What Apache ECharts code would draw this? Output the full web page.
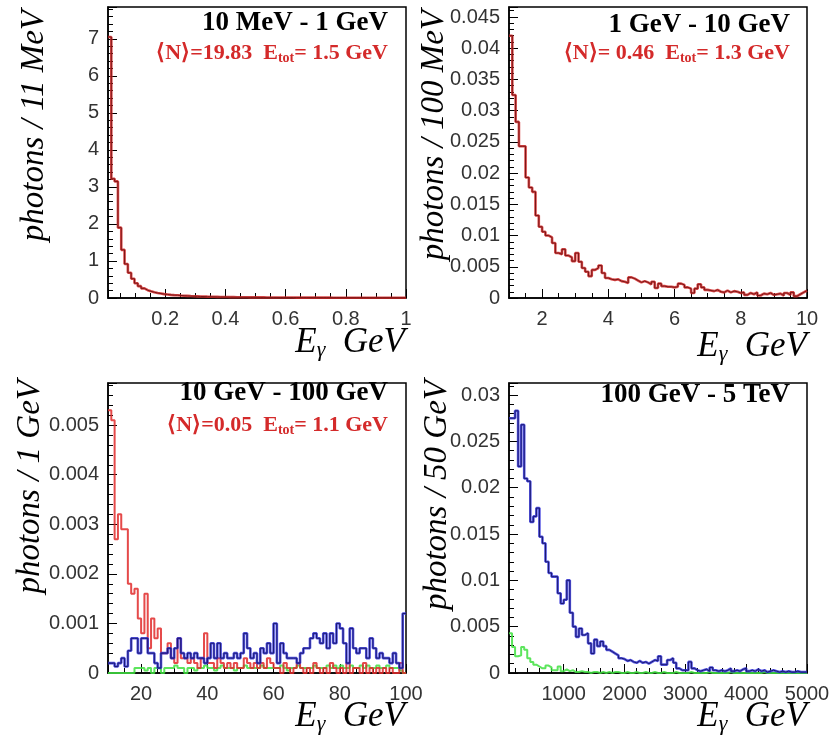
<!DOCTYPE html>
<html>
<head>
<meta charset="utf-8">
<script src="https://cdn.jsdelivr.net/npm/echarts@6/dist/echarts.min.js"></script>
<style>
html, body { margin: 0; background: #fff; }
#chart { width: 834px; height: 746px; }
</style>
</head>
<body>
<div id="chart"></div>
<script>
// histogram binning: [low edge, bin width]
const p1Bins = [0.01, 0.011]
const p2Bins = [1, 0.1]
const p3Bins = [10, 1]
const p4Bins = [100, 50]

// 10 MeV - 1 GeV, photons / 11 MeV
const p1Vals = [
  7.05, 3.22, 3.15, 1.9, 1.3, 0.92, 0.68, 0.52, 0.4, 0.32,
  0.26, 0.21, 0.18, 0.155, 0.135, 0.12, 0.105, 0.095, 0.085, 0.077,
  0.075, 0.068, 0.062, 0.057, 0.052, 0.048, 0.045, 0.042, 0.039, 0.036,
  0.034, 0.032, 0.03, 0.028, 0.027, 0.025, 0.024, 0.023, 0.022, 0.021,
  0.02, 0.019, 0.018, 0.018, 0.017, 0.016, 0.016, 0.015, 0.015, 0.014,
  0.014, 0.013, 0.013, 0.012, 0.012, 0.012, 0.011, 0.011, 0.011, 0.01,
  0.01, 0.01, 0.01, 0.009, 0.009, 0.009, 0.009, 0.008, 0.008, 0.008,
  0.008, 0.008, 0.007, 0.007, 0.007, 0.007, 0.007, 0.007, 0.006, 0.006,
  0.006, 0.006, 0.006, 0.006, 0.006, 0.005, 0.005, 0.005, 0.005, 0.005,
]

// 1 GeV - 10 GeV, photons / 100 MeV
const p2Vals = [
  0.042, 0.0325, 0.0282, 0.0243, 0.0243, 0.0193, 0.0177, 0.017, 0.0132, 0.0114,
  0.0106, 0.01, 0.0097, 0.0088, 0.0072, 0.007, 0.0078, 0.0068, 0.0065, 0.0059,
  0.0072, 0.0058, 0.0048, 0.0042, 0.0035, 0.0045, 0.0048, 0.0052, 0.004, 0.0032,
  0.003, 0.0029, 0.003, 0.0027, 0.0026, 0.0024, 0.0033, 0.0031, 0.0028, 0.0025,
  0.0027, 0.0025, 0.0022, 0.0026, 0.0016, 0.0023, 0.0019, 0.0018, 0.0018, 0.0017,
  0.0018, 0.0023, 0.0021, 0.0017, 0.0015, 0.0008, 0.0015, 0.0022, 0.0017, 0.0013,
  0.0012, 0.0011, 0.0013, 0.001, 0.0009, 0.0012, 0.0009, 0.0011, 0.001, 0.0008,
  0.0009, 0.0005, 0.0008, 0.0006, 0.0009, 0.0004, 0.0007, 0.0006, 0.0008, 0.0005,
  0.0006, 0.0007, 0.0004, 0.0008, 0.0005, 0.0009, 0.0003, 0.0006, 0.0009, 0.0012,
]

// 10 GeV - 100 GeV, photons / 1 GeV
const p3Red = [
  0.0053, 0.0051, 0.0027, 0.0032, 0.0029, 0.0029, 0.0018, 0.0016, 0.0017, 0.0011,
  0.0008, 0.0016, 0.0005, 0.0011, 0.0007, 0.0009, 0.0004, 0.0004, 0.0006, 0.0003,
  0.0002, 0.0007, 0.0003, 0.0003, 0.0002, 0.0003, 0.0002, 0.0001, 0.0003, 0.0008,
  0.0002, 0.0002, 0.0001, 0.0003, 0.0002, 0.0001, 0.0002, 0.0001, 0.0002, 0.0001,
  0.0001, 0.0003, 0.0002, 0.0001, 0.0002, 0.0001, 0.0002, 0.0001, 0.0003, 0.0002,
  0.0001, 0.0001, 0, 0.0002, 0.0001, 0, 0.0001, 0.0002, 0.0001, 0,
  0.0001, 0, 0.0002, 0.0001, 0, 0.0001, 0, 0.0002, 0.0001, 0,
  0.0001, 0, 0.0002, 0, 0.0001, 0.0001, 0, 0.0002, 0, 0.0001,
  0, 0.0001, 0, 0.0001, 0, 0.0001, 0, 0, 0.0002, 0,
]
const p3Blue = [
  0.0002, 0.0002, 0.00013, 0.0002, 0.0003, 0.00013, 0.00045, 0.0007, 0.0007, 0.0004,
  0.0007, 0.0007, 0.0004, 0.0004, 0.0002, 0.0001, 0.0004, 0.0004, 0.0005, 0.0003,
  0.0005, 0.0007, 0.0004, 0.0003, 0.0004, 0.0003, 0.0004, 0.0003, 0.0003, 0.0002,
  0.0003, 0.0006, 0.0003, 0.0006, 0.0003, 0.0004, 0.0003, 0.0003, 0.0004, 0.0003,
  0.0004, 0.0008, 0.0005, 0.0003, 0.0004, 0.0002, 0.0005, 0.0004, 0.0006, 0.0004,
  0.001, 0.0002, 0.0006, 0.0004, 0.0003, 0.0003, 0.0003, 0.0002, 0.0004, 0.0005,
  0.0005, 0.0007, 0.0008, 0.0007, 0.0006, 0.0008, 0.0005, 0.0008, 0.0006, 0.001,
  0.0009, 0.0006, 0.0002, 0.0009, 0.0005, 0.0004, 0.0005, 0.0005, 0.0003, 0.0007,
  0.0005, 0.0003, 0.0004, 0.0003, 0.0003, 0.0002, 0.0004, 0.0002, 0.0001, 0.0012,
]
const p3Green = [
  0, 0, 0, 0, 0, 0, 0, 0, 0.0001, 0.0001,
  0.0001, 0.00005, 0.0001, 0, 0.0001, 0.0001, 0, 0.0001, 0.0001, 0.0001,
  0.00015, 0.0001, 0.0001, 0, 0.0001, 0.0001, 0.00005, 0.0001, 0.0001, 0.00015,
  0.0001, 0.0001, 0.00005, 0.0001, 0.00015, 0.0001, 0.0001, 0.0001, 0.00005, 0.0001,
  0.0001, 0.00015, 0.0001, 0.0001, 0.0001, 0.0001, 0.00015, 0.0001, 0.0001, 0.0001,
  0.0001, 0.0001, 0.00015, 0.0001, 0.00005, 0.0001, 0.0001, 0.00015, 0.0001, 0.0001,
  0.0001, 0.0001, 0.00015, 0.0001, 0.0001, 0.0001, 0.00015, 0.0001, 0.00015, 0.0001,
  0.00015, 0.0001, 0.0001, 0.00015, 0.0001, 0.0001, 0.00015, 0.0001, 0.00015, 0.0001,
  0.0001, 0.00015, 0.0001, 0.0001, 0.00015, 0.0001, 0.0001, 0.0001, 0.00005, 0,
]

// 100 GeV - 5 TeV, photons / 50 GeV
const p4Blue = [
  0.0275, 0.0275, 0.0283, 0.0223, 0.0268, 0.021, 0.0207, 0.0163, 0.0169, 0.0178,
  0.0147, 0.014, 0.012, 0.0108, 0.0104, 0.0104, 0.0086, 0.0075, 0.0079, 0.01,
  0.0065, 0.005, 0.0039, 0.0048, 0.0041, 0.0043, 0.0032, 0.0021, 0.0036, 0.0029,
  0.0034, 0.0029, 0.0025, 0.0023, 0.0021, 0.0019, 0.0016, 0.0015, 0.0013, 0.0014,
  0.0012, 0.0011, 0.0013, 0.0011, 0.0012, 0.001, 0.0012, 0.0014, 0.0013, 0.0018,
  0.0009, 0.0009, 0.0014, 0.0016, 0.0011, 0.0005, 0.0003, 0.0003, 0.0003, 0.0012,
  0.0005, 0.0003, 0.0002, 0.0003, 0.0004, 0.0002, 0.0006, 0.0003, 0.0002, 0.0003,
  0.0002, 0.0003, 0.0005, 0.0002, 0.0003, 0.0002, 0.0004, 0.0005, 0.0002, 0.0003,
  0.0002, 0.0004, 0.0002, 0.0003, 0.0001, 0.0002, 0.0003, 0.0002, 0.0001, 0.0002,
  0.0001, 0.0002, 0.0001, 0.0001, 0.0002, 0.0001, 0.0001, 0.0001,
]
const p4Green = [
  0.0043, 0.0028, 0.0018, 0.0019, 0.0028, 0.0025, 0.0016, 0.0012, 0.0009, 0.0007,
  0.0005, 0.0005, 0.0008, 0.0006, 0.0003, 0.0003, 0.0007, 0.0002, 0.0004, 0.0002,
  0.0003, 0.0001, 0.0001, 0.0002, 0.0001, 0.0001, 0, 0.0001, 0.0001, 0,
  0.0001, 0, 0.0001, 0, 0.0001, 0.0001, 0, 0, 0.0001, 0,
  0, 0.0001, 0, 0, 0.0001, 0, 0, 0.0001, 0, 0,
  0.0001, 0, 0, 0, 0.0001, 0, 0, 0, 0, 0.0001,
  0, 0, 0, 0, 0, 0.0001, 0, 0, 0, 0,
  0, 0, 0.0001, 0, 0, 0, 0, 0, 0, 0,
  0, 0, 0, 0.0001, 0, 0, 0, 0, 0, 0,
  0, 0, 0, 0, 0, 0, 0, 0,
]

const RED = '#d42a2a'
const RED_DARK = '#7a1616'
const BLUE = '#3434dc'
const BLUE_DARK = '#1a1a70'
const GREEN = '#3fe03f'

const fmt = (v) => String(parseFloat(Number(v).toPrecision(6)))

// step-line points at the bin edges
function edges(bins, vals) {
  const pts = vals.map((v, i) => [bins[0] + i * bins[1], v])
  pts.push([bins[0] + vals.length * bins[1], vals[vals.length - 1]])
  return pts
}

function hist(i, bins, vals, color, dark) {
  const base = {
    type: 'line', xAxisIndex: i, yAxisIndex: i, step: 'end', clip: false,
    symbol: 'none', silent: true, animation: false, data: edges(bins, vals),
  }
  const out = [{ ...base, z: 2, lineStyle: { color, width: dark ? 2.6 : 2, opacity: 0.85 } }]
  if (dark) out.push({ ...base, z: 3, lineStyle: { color: dark, width: 1 } })
  return out
}

const grids = [
  { left: 108, top: 7, width: 298, height: 291 },
  { left: 509, top: 7, width: 298, height: 291 },
  { left: 108, top: 383, width: 298, height: 290 },
  { left: 509, top: 383, width: 298, height: 290 },
].map(g => ({ ...g, show: true, borderColor: '#000', borderWidth: 1.5, backgroundColor: 'transparent' }))

const tickLabel = { color: '#333', fontFamily: 'Liberation Sans', fontSize: 20, formatter: fmt }

function xAxisFor(i, min, max, minor) {
  return {
    type: 'value', gridIndex: i, min, max, splitNumber: 5,
    axisLine: { show: true, onZero: false, lineStyle: { color: '#000', width: 1.5 } },
    axisTick: { show: true, inside: true, length: 9, lineStyle: { color: '#000' } },
    minorTick: { show: true, splitNumber: minor, length: 5, lineStyle: { color: '#000' } },
    splitLine: { show: false },
    axisLabel: { ...tickLabel, margin: 11, showMinLabel: false },
  }
}
function yAxisFor(i, max, interval) {
  return {
    type: 'value', gridIndex: i, min: 0, max, interval,
    axisLine: { show: true, onZero: false, lineStyle: { color: '#000', width: 1.5 } },
    axisTick: { show: true, inside: true, length: 9, lineStyle: { color: '#000' } },
    minorTick: { show: true, splitNumber: 5, length: 5, lineStyle: { color: '#000' } },
    splitLine: { show: false },
    axisLabel: { ...tickLabel, margin: 9, showMaxLabel: false },
  }
}

function title(x, y, text) {
  return { type: 'text', x, y, z: 10, style: {
    text, font: 'bold 27px "Liberation Serif"', fill: '#000', textAlign: 'right', textVerticalAlign: 'middle' } }
}
function stats(x, y, n, e) {
  return { type: 'text', x, y, z: 10, style: {
    text: '{a|⟨N⟩=' + n + '  E}{s|tot}{a|= ' + e + ' GeV}',
    font: 'bold 22px "Liberation Serif"', fill: RED, textAlign: 'right', textVerticalAlign: 'middle',
    rich: {
      a: { font: 'bold 22px "Liberation Serif"', fill: RED },
      s: { font: 'bold 14px "Liberation Serif"', fill: RED, padding: [11, 0, 0, 0] },
    } } }
}
function yTitle(x, y, text) {
  return { type: 'text', x, y, rotation: Math.PI / 2, z: 10, style: {
    text, font: 'italic 33px "Liberation Serif"', fill: '#000', textAlign: 'right', textVerticalAlign: 'middle' } }
}
function xTitle(x, y) {
  return { type: 'text', x, y, z: 10, style: {
    text: '{e|E}{g|γ}  {e|GeV}', font: 'italic 35px "Liberation Serif"', fill: '#000',
    textAlign: 'right', textVerticalAlign: 'middle',
    rich: {
      e: { font: 'italic 35px "Liberation Serif"', fill: '#000' },
      g: { font: 'italic 22px "Liberation Serif"', fill: '#000', padding: [15, 0, 0, 0] },
    } } }
}

const option = {
  backgroundColor: '#fff',
  animation: false,
  grid: grids,
  xAxis: [
    xAxisFor(0, 0.01, 1, 4),
    xAxisFor(1, 1, 10, 4),
    xAxisFor(2, 10, 100, 4),
    xAxisFor(3, 100, 5000, 5),
  ],
  yAxis: [
    yAxisFor(0, 7.86, 1),
    yAxisFor(1, 0.0466, 0.005),
    yAxisFor(2, 0.00585, 0.001),
    yAxisFor(3, 0.0313, 0.005),
  ],
  series: [
    ...hist(0, p1Bins, p1Vals, RED, RED_DARK),
    ...hist(1, p2Bins, p2Vals, RED, RED_DARK),
    ...hist(2, p3Bins, p3Green, GREEN, null),
    ...hist(2, p3Bins, p3Red, '#e02a2a', null),
    ...hist(2, p3Bins, p3Blue, BLUE, BLUE_DARK),
    ...hist(3, p4Bins, p4Green, GREEN, null),
    ...hist(3, p4Bins, p4Blue, BLUE, BLUE_DARK),
  ],
  graphic: [
    title(388, 23, '10 MeV - 1 GeV'),
    stats(388, 53, '19.83', '1.5'),
    title(790, 25, '1 GeV - 10 GeV'),
    stats(790, 53, ' 0.46', '1.3'),
    title(388, 393, '10 GeV - 100 GeV'),
    stats(388, 425, '0.05', '1.1'),
    title(790, 395, '100 GeV - 5 TeV'),
    yTitle(34, 10, 'photons / 11 MeV'),
    yTitle(434, 10, 'photons / 100 MeV'),
    yTitle(30, 380, 'photons / 1 GeV'),
    yTitle(437, 380, 'photons / 50 GeV'),
    xTitle(405, 343),
    xTitle(807, 347),
    xTitle(405, 717),
    xTitle(807, 717),
  ],
}

const chart = echarts.init(document.getElementById('chart'))
chart.setOption(option)
</script>
</body>
</html>
